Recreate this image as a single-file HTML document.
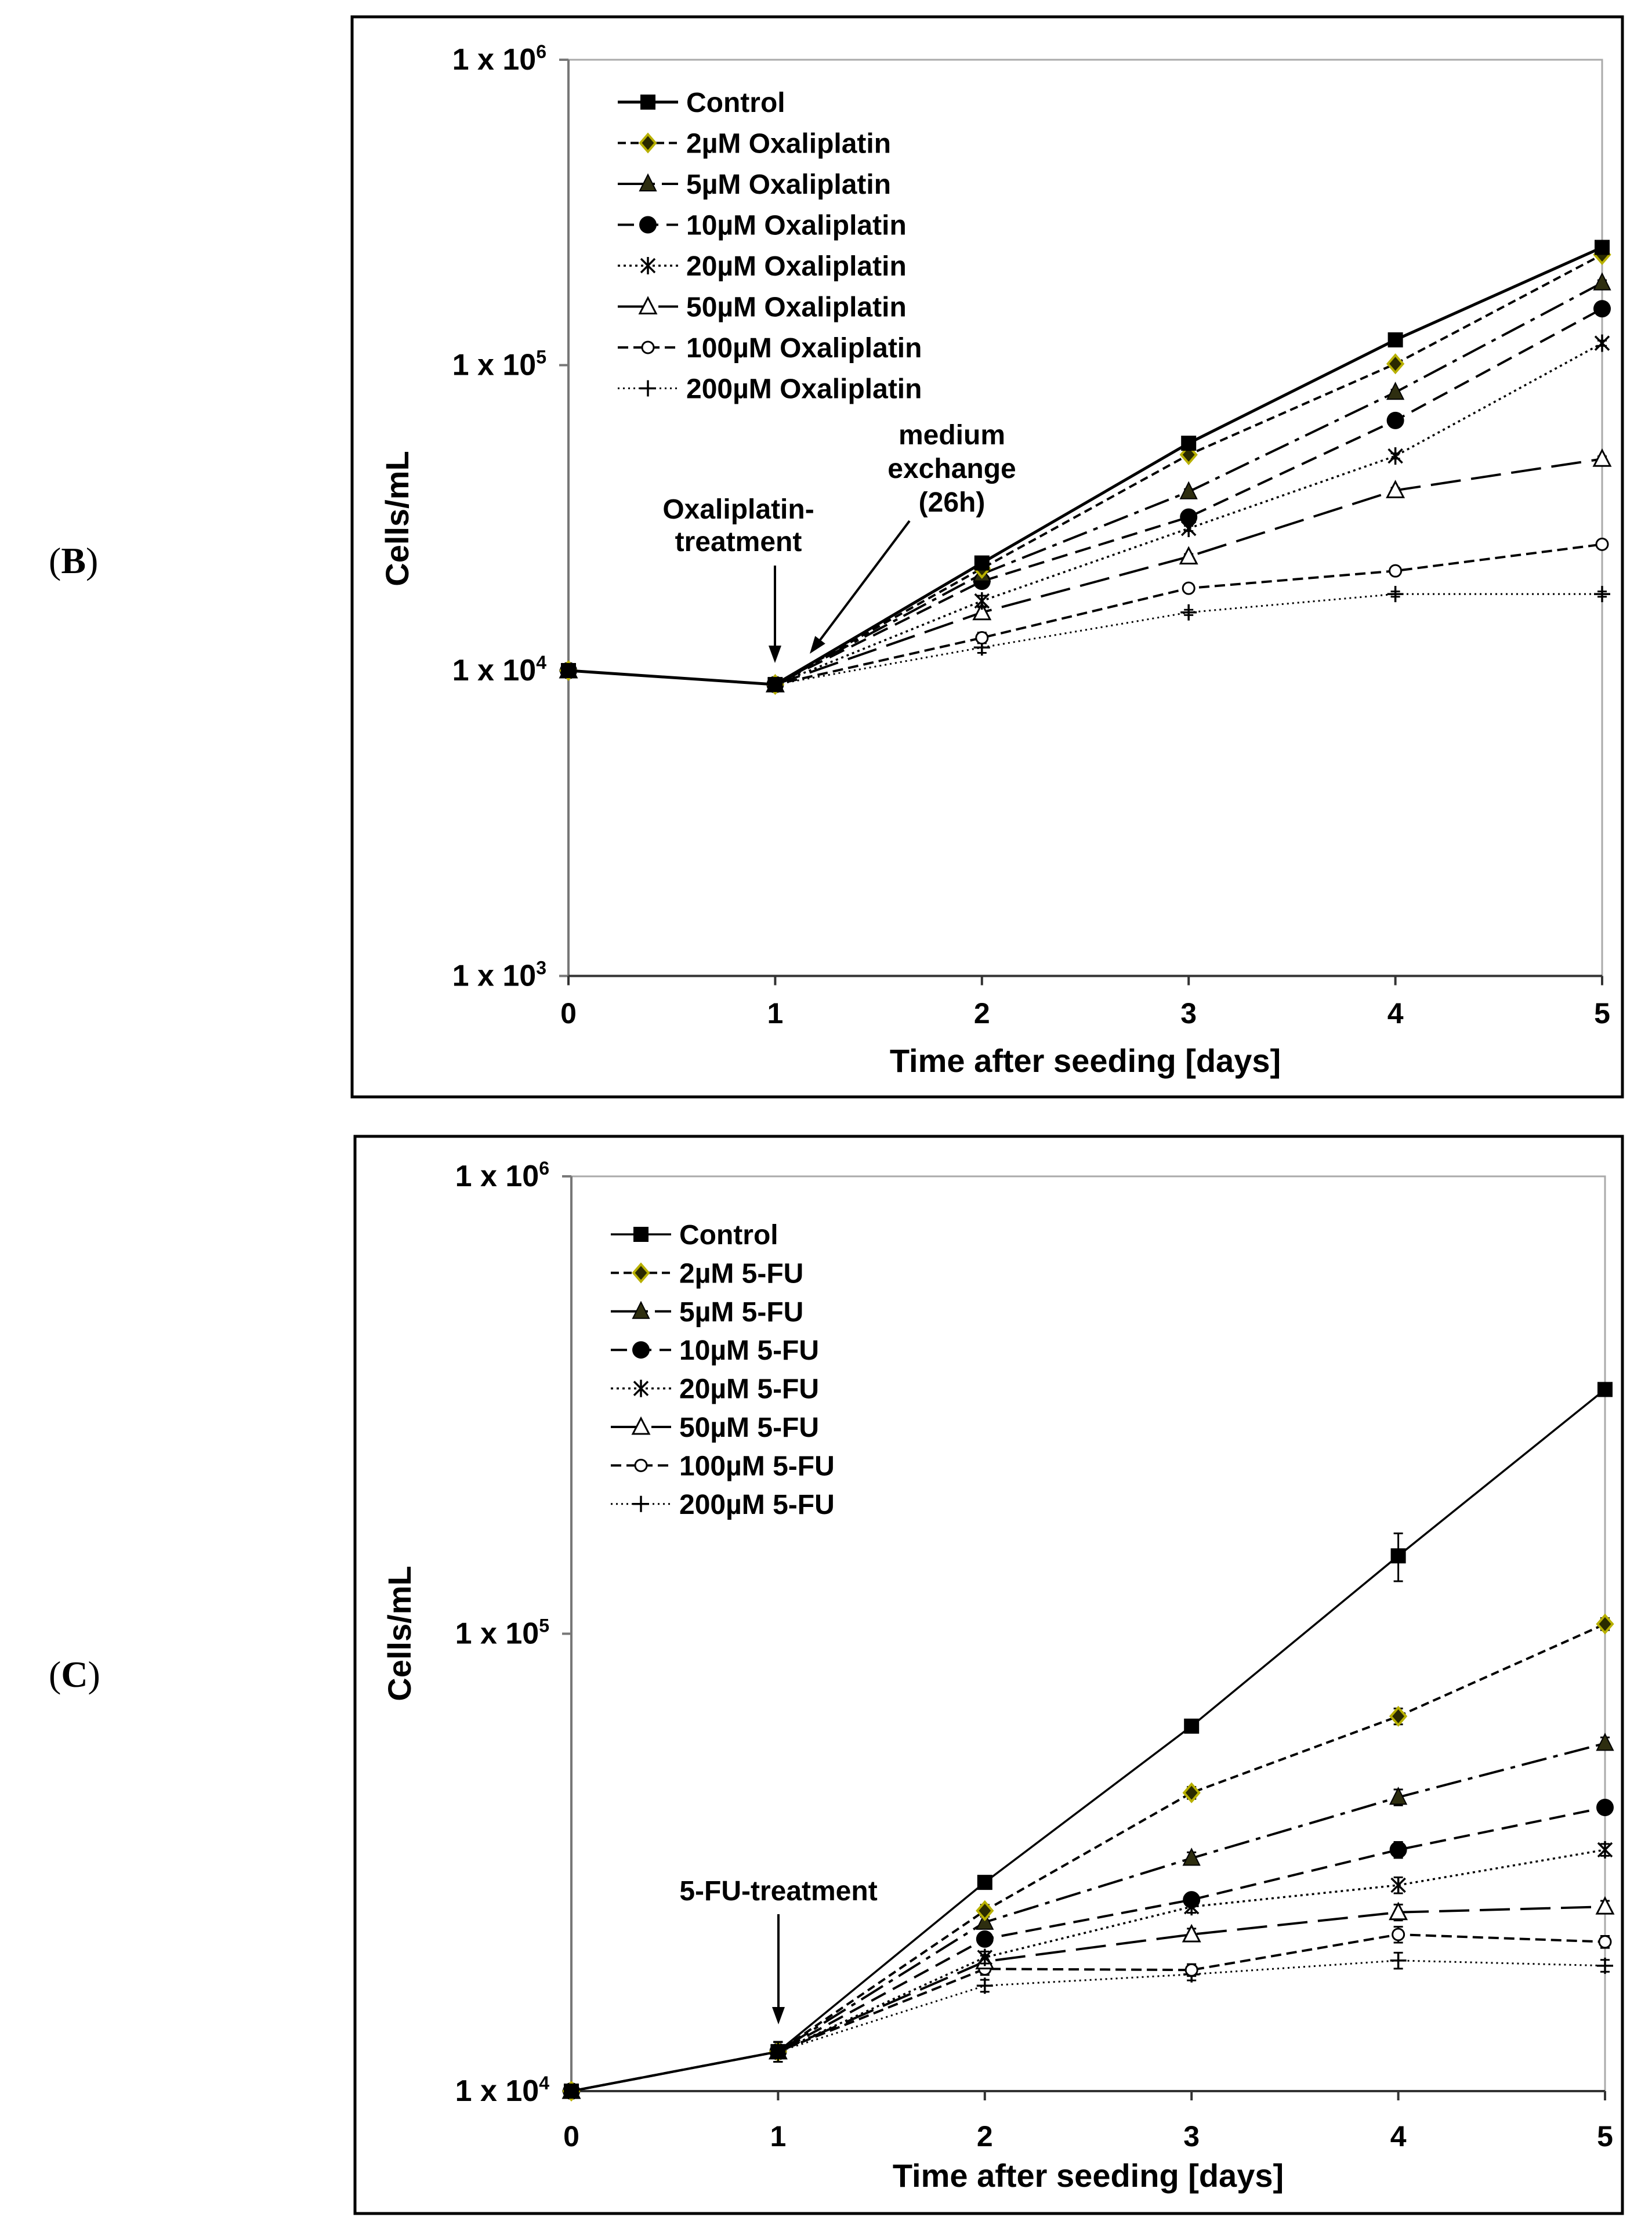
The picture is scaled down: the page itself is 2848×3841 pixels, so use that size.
<!DOCTYPE html>
<html><head><meta charset="utf-8"><style>
html,body{margin:0;padding:0;background:#fff}
svg{display:block}
text{font-family:"Liberation Sans",Arial,sans-serif;font-weight:bold;fill:#000}
</style></head><body>
<svg id="fig" xmlns="http://www.w3.org/2000/svg" width="2848" height="3841" viewBox="0 0 2848 3841">
<text x="84" y="988" style="font-family:'Liberation Serif',serif;font-weight:normal;font-size:64px">(<tspan style="font-weight:bold">B</tspan>)</text>
<text x="84" y="2908" style="font-family:'Liberation Serif',serif;font-weight:normal;font-size:64px">(<tspan style="font-weight:bold">C</tspan>)</text>
<rect x="607" y="29" width="2190" height="1862" fill="none" stroke="#000" stroke-width="5"/>
<rect x="612" y="1959" width="2185" height="1857" fill="none" stroke="#000" stroke-width="5"/>
<g id="gB"></g>
<g id="gC"></g>
</svg>
<script>
const days=[0,1,2,3,4,5];
const namesB=["Control","2µM Oxaliplatin","5µM Oxaliplatin","10µM Oxaliplatin","20µM Oxaliplatin","50µM Oxaliplatin","100µM Oxaliplatin","200µM Oxaliplatin"];
const namesC=["Control","2µM 5-FU","5µM 5-FU","10µM 5-FU","20µM 5-FU","50µM 5-FU","100µM 5-FU","200µM 5-FU"];
const ctrlB=[10000,9000,22500,55500,121000,243000];
const ox2=[10000,9000,21600,50900,101000,230000];
const ox5=[10000,9000,20700,38500,81500,186000];
const ox10=[10000,9000,19600,31800,65900,153000];
const ox20=[10000,9000,16900,29200,50400,118000];
const ox50=[10000,9000,15500,23600,38900,49300];
const ox100=[10000,9000,12800,18600,21200,25900];
const ox200=[10000,9000,11900,15500,17800,17800];
const ctrlC=[10000,12200,28600,62800,148000,342000];
const fu2=[10000,12200,24800,44900,66000,105000];
const fu5=[10000,12200,23400,32300,43900,57600];
const fu10=[10000,12200,21500,26200,33700,41700];
const fu20=[10000,12200,19600,25300,28200,33700];
const fu50=[10000,12200,19200,22000,24600,25300];
const fu100=[10000,12200,18500,18400,22000,21200];
const fu200=[10000,12200,17000,18000,19300,18800];
const errB=[0.02,0.02,0.04,0.02,0.02,0.02];
const errC=[0.02,0.05,0.03,0.03,0.04,0.03];

const NS="http://www.w3.org/2000/svg";
function mk(p,t,a){const e=document.createElementNS(NS,t);for(const k in a)e.setAttribute(k,a[k]);p.appendChild(e);return e;}
const styles=[
 {dash:"",w:5,m:"square"},{dash:"14,8",w:4,m:"diamond"},{dash:"44,12,8,12",w:4,m:"tri"},
 {dash:"28,14",w:4,m:"circle"},{dash:"4,6",w:3.5,m:"star"},{dash:"52,18",w:4,m:"otri"},
 {dash:"18,9",w:4,m:"ocircle"},{dash:"3,6",w:3,m:"plus"}];
function marker(g,type,cx,cy){
 let e;
 if(type==="square"){e=mk(g,"rect",{x:cx-13,y:cy-13,width:26,height:26,fill:"#000"});}
 else if(type==="diamond"){e=mk(g,"polygon",{points:`${cx},${cy-15} ${cx+13},${cy} ${cx},${cy+15} ${cx-13},${cy}`,fill:"#2a2a00",stroke:"#b8b000","stroke-width":4});}
 else if(type==="tri"){e=mk(g,"polygon",{points:`${cx},${cy-16} ${cx+14},${cy+12} ${cx-14},${cy+12}`,fill:"#2e2e10",stroke:"#000","stroke-width":2});}
 else if(type==="circle"){e=mk(g,"circle",{cx:cx,cy:cy,r:15,fill:"#000"});}
 else if(type==="star"){e=mk(g,"path",{d:`M${cx-12} ${cy-12}L${cx+12} ${cy+12}M${cx+12} ${cy-12}L${cx-12} ${cy+12}M${cx} ${cy-15}L${cx} ${cy+15}`,stroke:"#000","stroke-width":3.5,fill:"none"});}
 else if(type==="otri"){e=mk(g,"polygon",{points:`${cx},${cy-15} ${cx+14},${cy+12} ${cx-14},${cy+12}`,fill:"#fff",stroke:"#000","stroke-width":3});}
 else if(type==="ocircle"){e=mk(g,"circle",{cx:cx,cy:cy,r:10,fill:"#fff",stroke:"#000","stroke-width":3});}
 else {e=mk(g,"path",{d:`M${cx-14} ${cy}L${cx+14} ${cy}M${cx} ${cy-14}L${cx} ${cy+14}`,stroke:"#000","stroke-width":3.5,fill:"none"});}
 return e;
}
function chart(gid,cfg){
 const g=document.getElementById(gid);
 const X=d=>cfg.x0+d*cfg.dx;
 const Y=v=>cfg.y4-(Math.log10(v)-4)*cfg.dec;
 const yTop=Y(1e6), yBot=Y(cfg.minV);
 const pb=mk(g,"rect",{x:X(0),y:yTop,width:X(5)-X(0),height:yBot-yTop,fill:"none",stroke:"#aaa","stroke-width":3});
 
 
 const ya=mk(g,"line",{x1:X(0),y1:yTop,x2:X(0),y2:yBot,stroke:"#777","stroke-width":4});
 
 
 const xa=mk(g,"line",{x1:X(0),y1:yBot,x2:X(5),y2:yBot,stroke:"#333","stroke-width":4});
 
 
 cfg.yticks.forEach(p=>{
  const yy=Y(Math.pow(10,p));
  mk(g,"line",{x1:X(0)-16,y1:yy,x2:X(0),y2:yy,stroke:"#777","stroke-width":4});
  const t=mk(g,"text",{x:X(0)-38,y:yy+17,"text-anchor":"end","font-size":52});
  
  
  t.textContent="1 x 10";
  const s=mk(t,"tspan",{dy:-20,"font-size":32});s.textContent=String(p);
 });
 days.forEach(d=>{
  mk(g,"line",{x1:X(d),y1:yBot,x2:X(d),y2:yBot+16,stroke:"#333","stroke-width":4});
  const t=mk(g,"text",{x:X(d),y:cfg.xlabY,"text-anchor":"middle","font-size":50});
  
  
  t.textContent=String(d);
 });
 const xt=mk(g,"text",{x:(X(0)+X(5))/2,y:cfg.xtitleY,"text-anchor":"middle","font-size":56});
 
 
 xt.textContent="Time after seeding [days]";
 const yt=mk(g,"text",{x:0,y:0,"text-anchor":"middle","font-size":56,transform:`translate(${cfg.ytX},${cfg.ytY}) rotate(-90)`});
 
 
 yt.textContent="Cells/mL";
 for(let i=cfg.series.length-1;i>=0;i--){
  const s=cfg.series[i];
  const st=styles[i];
  const w=(i===0)?cfg.ctrlW:st.w;
  const sg=mk(g,"g",{});
  
  
  const pts=s.map((v,j)=>X(days[j])+","+Y(v)).join(" ");
  mk(sg,"polyline",{points:pts,fill:"none",stroke:"#000","stroke-width":w,"stroke-dasharray":st.dash});
  s.forEach((v,j)=>{
   let e=cfg.err[j]; if(i===0&&cfg.bigErr&&j===4)e=0.12;
   const y1=Y(v*(1+e)),y2=Y(v*(1-e));
   mk(sg,"path",{d:`M${X(j)} ${y1}L${X(j)} ${y2}M${X(j)-8} ${y1}L${X(j)+8} ${y1}M${X(j)-8} ${y2}L${X(j)+8} ${y2}`,stroke:"#000","stroke-width":3,fill:"none"});
   const m=marker(sg,st.m,X(j),Y(v));
   
   
  });
 }
 cfg.names.forEach((n,i)=>{
  const st=styles[i];
  const ly=cfg.legY+i*cfg.legDy;
  const lg=mk(g,"g",{});
  
  
  mk(lg,"line",{x1:cfg.legX,y1:ly,x2:cfg.legX+104,y2:ly,stroke:"#000","stroke-width":(i===0?cfg.ctrlW:st.w),"stroke-dasharray":st.dash});
  marker(lg,st.m,cfg.legX+52,ly);
  const t=mk(lg,"text",{x:cfg.legX+118,y:ly+17,"font-size":48});
  t.textContent=n;
 });
}
chart("gB",{x0:980,dx:356.4,y4:1156,dec:526.5,minV:1000,yticks:[6,5,4,3],xlabY:1764,xtitleY:1848,ytX:704,ytY:894,ctrlW:5,bigErr:false,
 series:[ctrlB,ox2,ox5,ox10,ox20,ox50,ox100,ox200],names:namesB,err:errB,legX:1065,legY:176,legDy:70.5});
chart("gC",{x0:985,dx:356.4,y4:3605,dec:788.5,minV:10000,yticks:[6,5,4],xlabY:3700,xtitleY:3770,ytX:708,ytY:2816,ctrlW:3.5,bigErr:true,
 series:[ctrlC,fu2,fu5,fu10,fu20,fu50,fu100,fu200],names:namesC,err:errC,legX:1053,legY:2128,legDy:66.4});
const svg=document.getElementById("fig");
function note(lines,cx,y0,dy,name){const t=mk(svg,"text",{"text-anchor":"middle","font-size":48});lines.forEach((l,i)=>{const s=mk(t,"tspan",{x:cx,y:y0+i*dy});s.textContent=l;});}
function arrow(x1,y1,x2,y2,name){const a=Math.atan2(y2-y1,x2-x1),L=30,W=11;const g=mk(svg,"g",{});
 mk(g,"line",{x1:x1,y1:y1,x2:x2-Math.cos(a)*L*0.8,y2:y2-Math.sin(a)*L*0.8,stroke:"#000","stroke-width":4});
 const bx=x2-Math.cos(a)*L,by=y2-Math.sin(a)*L;
 mk(g,"polygon",{points:`${x2},${y2} ${bx-Math.sin(a)*W},${by+Math.cos(a)*W} ${bx+Math.sin(a)*W},${by-Math.cos(a)*W}`,fill:"#000"});}
note(["Oxaliplatin-","treatment"],1273,894,56,"oxaliplatin-treatment-label");
arrow(1336,975,1336,1143,"treatment-arrow");
note(["medium","exchange","(26h)"],1641,766,58,"medium-exchange-label");
arrow(1568,898,1396,1127,"medium-exchange-arrow");
note(["5-FU-treatment"],1342,3276,0,"5fu-treatment-label");
arrow(1342,3300,1342,3490,"5fu-treatment-arrow");
</script>
</body></html>
